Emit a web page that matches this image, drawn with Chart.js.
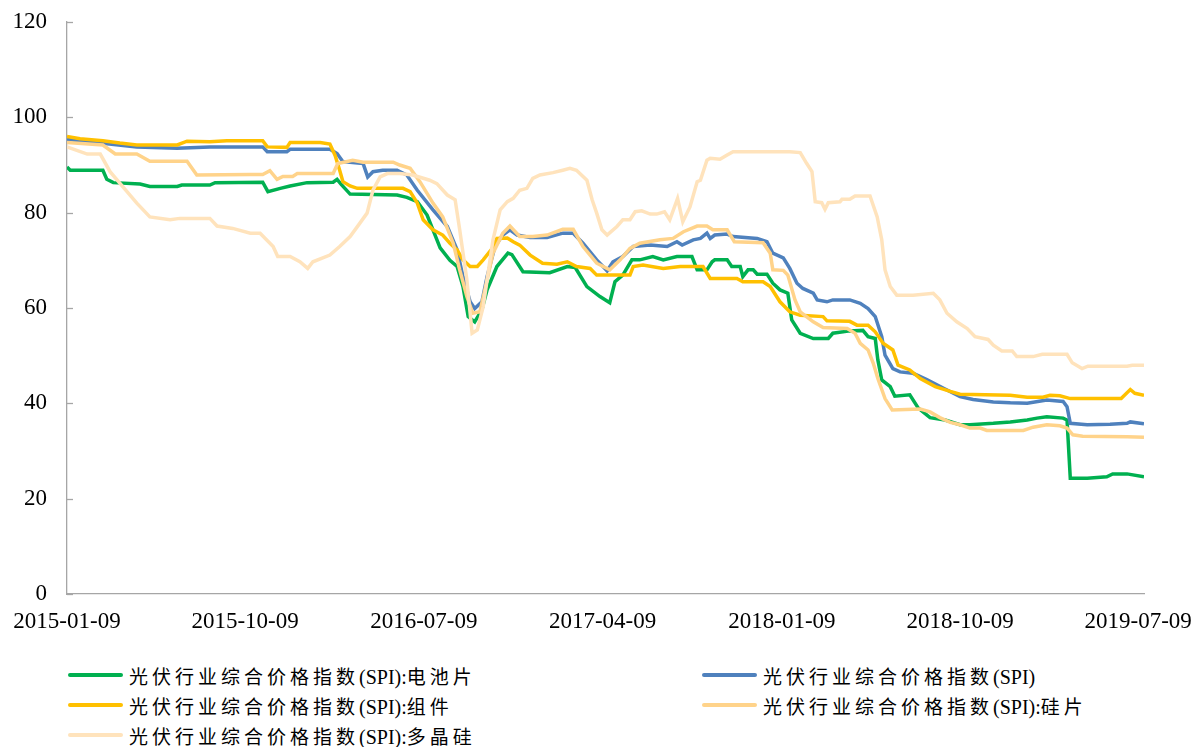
<!DOCTYPE html>
<html>
<head>
<meta charset="utf-8">
<script src="https://cdn.jsdelivr.net/npm/chart.js@4.4.1/dist/chart.umd.min.js"></script>
<style>
  body { margin: 0; background: #fff; }
  #wrap { position: relative; width: 1195px; height: 747px; }
  #legend { position: absolute; left: 0; top: 660px; width: 1195px;
    font-family: "Liberation Serif", "Noto Sans CJK SC", serif; font-size: 20px; color: #000; }
  .item { position: absolute; height: 30px; display: flex; align-items: center; white-space: nowrap; }
  .item .swatch { width: 55px; height: 4px; border-radius: 2px; margin-right: 6px; }
  .cjk { font-family: "Noto Sans CJK SC", sans-serif; letter-spacing: 4px; font-size: 19px; }
</style>
</head>
<body>
<div id="wrap">
  <canvas id="chart" width="1195" height="650"></canvas>
  <div id="legend"></div>
</div>
<script>
const tickLabels = ["2015-01-09", "2015-10-09", "2016-07-09", "2017-04-09", "2018-01-09", "2018-10-09", "2019-07-09"];
const lastDate = "2019-07-18";

// 光伏行业综合价格指数(SPI):电池片
const cellDates = ["2015-01-09","2015-01-14","2015-03-05","2015-03-11","2015-03-21","2015-05-01","2015-05-16","2015-06-27","2015-07-04","2015-08-16","2015-08-24","2015-11-05","2015-11-13","2015-12-02","2015-12-17","2016-01-12","2016-02-21","2016-02-27","2016-03-04","2016-03-18","2016-05-29","2016-06-13","2016-06-29","2016-07-14","2016-08-03","2016-08-18","2016-08-29","2016-09-07","2016-09-15","2016-09-25","2016-10-06","2016-10-14","2016-10-29","2016-11-15","2016-11-21","2016-12-08","2017-01-18","2017-02-14","2017-02-26","2017-03-16","2017-04-05","2017-04-20","2017-04-28","2017-05-10","2017-05-24","2017-06-05","2017-06-25","2017-07-11","2017-08-01","2017-08-24","2017-09-01","2017-09-16","2017-09-24","2017-09-28","2017-10-17","2017-10-24","2017-11-06","2017-11-10","2017-11-18","2017-11-26","2017-12-02","2017-12-17","2017-12-26","2018-01-06","2018-01-18","2018-01-24","2018-02-06","2018-02-26","2018-03-21","2018-03-28","2018-04-23","2018-05-13","2018-05-21","2018-06-01","2018-06-05","2018-06-11","2018-06-24","2018-07-01","2018-07-24","2018-08-06","2018-08-24","2018-09-16","2018-10-09","2018-10-24","2018-11-29","2018-12-25","2019-01-20","2019-02-04","2019-02-19","2019-03-16","2019-03-22","2019-03-27","2019-04-22","2019-05-22","2019-05-31","2019-06-22","2019-07-18"];
const cellValues = [89.6,88.9,88.9,87.0,86.3,86.0,85.5,85.5,85.8,85.8,86.3,86.4,84.4,85.1,85.6,86.3,86.4,87.0,86.0,83.9,83.7,83.2,82.3,79.5,72.6,70.0,68.7,64.5,58.2,57.1,59.6,63.8,68.7,71.5,71.2,67.6,67.4,68.7,68.5,64.5,62.4,61.1,65.5,66.9,70.1,70.1,70.8,70.1,70.8,70.8,68.0,68.0,69.7,70.1,70.1,68.7,68.7,66.6,68.0,68.0,67.1,67.1,65.2,63.8,63.1,57.5,54.7,53.6,53.6,54.7,55.2,55.3,54.0,53.6,49.1,44.9,43.5,41.5,41.8,39.0,37.0,36.5,35.5,35.5,35.8,36.1,36.5,36.9,37.2,36.9,36.5,24.3,24.3,24.6,25.2,25.2,24.6];

// 光伏行业综合价格指数(SPI)
const spiDates = ["2015-01-09","2015-01-29","2015-03-01","2015-04-26","2015-06-27","2015-08-16","2015-11-05","2015-11-12","2015-12-12","2015-12-17","2016-02-16","2016-02-27","2016-03-07","2016-04-07","2016-04-14","2016-04-22","2016-05-07","2016-05-29","2016-06-13","2016-06-29","2016-07-23","2016-08-14","2016-08-29","2016-09-07","2016-09-18","2016-09-25","2016-10-06","2016-10-14","2016-10-26","2016-11-07","2016-11-18","2016-11-29","2016-12-19","2017-01-14","2017-02-07","2017-02-23","2017-03-10","2017-03-31","2017-04-16","2017-04-25","2017-05-10","2017-05-26","2017-06-21","2017-07-17","2017-08-01","2017-08-09","2017-08-26","2017-09-06","2017-09-16","2017-09-21","2017-09-28","2017-10-17","2017-10-26","2017-12-02","2017-12-17","2017-12-26","2018-01-11","2018-01-21","2018-02-01","2018-02-10","2018-02-26","2018-03-04","2018-03-19","2018-03-28","2018-04-23","2018-05-09","2018-05-21","2018-06-01","2018-06-11","2018-06-16","2018-06-28","2018-07-09","2018-07-29","2018-08-19","2018-09-16","2018-10-09","2018-10-29","2018-11-29","2018-12-25","2019-01-20","2019-02-19","2019-03-16","2019-03-22","2019-03-27","2019-04-22","2019-05-27","2019-06-22","2019-06-27","2019-07-18"];
const spiValues = [95.4,95.0,94.6,93.8,93.5,93.8,93.8,92.8,92.8,93.3,93.3,92.4,90.7,90.3,87.5,88.6,88.9,88.9,87.9,84.7,80.6,77.1,72.2,66.6,61.3,59.9,61.3,66.6,72.9,75.3,76.4,75.3,74.8,74.8,75.7,75.7,73.6,70.1,67.8,69.7,70.8,72.9,73.2,72.9,73.9,73.2,74.3,74.6,75.7,74.6,75.3,75.5,75.0,74.6,73.9,71.5,70.5,68.3,65.2,64.1,63.1,61.7,61.3,61.7,61.7,61.0,59.9,58.2,54.0,50.1,47.3,46.6,46.3,45.0,43.0,41.4,40.8,40.3,40.1,40.0,40.7,40.4,39.3,35.8,35.5,35.6,35.8,36.1,35.7];

// 光伏行业综合价格指数(SPI):组件
const moduleDates = ["2015-01-09","2015-01-29","2015-03-05","2015-03-31","2015-04-26","2015-06-27","2015-07-12","2015-08-16","2015-09-11","2015-11-05","2015-11-12","2015-12-12","2015-12-17","2016-02-01","2016-02-16","2016-02-24","2016-03-02","2016-03-07","2016-03-18","2016-03-29","2016-06-07","2016-06-18","2016-06-29","2016-07-08","2016-07-23","2016-08-07","2016-08-18","2016-08-29","2016-09-07","2016-09-18","2016-09-29","2016-10-08","2016-10-22","2016-10-29","2016-11-14","2016-11-23","2016-12-03","2016-12-19","2017-01-07","2017-01-29","2017-02-14","2017-02-28","2017-03-21","2017-03-31","2017-05-21","2017-05-26","2017-06-10","2017-07-11","2017-08-06","2017-09-10","2017-09-21","2017-11-01","2017-11-10","2017-12-11","2017-12-22","2018-01-06","2018-01-21","2018-02-06","2018-03-13","2018-03-19","2018-04-23","2018-05-04","2018-05-21","2018-06-01","2018-06-13","2018-06-28","2018-07-06","2018-07-24","2018-08-09","2018-09-01","2018-09-24","2018-10-09","2018-12-25","2019-01-20","2019-02-13","2019-02-24","2019-03-11","2019-03-27","2019-06-13","2019-06-27","2019-07-04","2019-07-18"];
const moduleValues = [96.0,95.5,95.1,94.6,94.2,94.2,95.0,94.9,95.1,95.1,93.8,93.7,94.7,94.7,94.4,92.0,88.9,86.5,85.6,85.1,85.1,84.4,82.0,78.5,76.4,75.3,73.6,72.2,70.1,68.7,68.7,70.1,72.5,74.6,74.7,73.9,73.2,71.1,69.4,69.2,69.7,68.7,68.3,66.9,66.9,68.7,69.0,68.3,68.7,68.7,66.2,66.2,65.5,65.5,64.5,61.3,59.2,58.5,58.2,57.3,57.2,56.4,56.4,55.0,52.6,51.2,48.0,47.0,45.2,43.5,42.5,41.9,41.7,41.3,41.3,41.7,41.6,41.0,41.0,42.9,42.1,41.7];

// 光伏行业综合价格指数(SPI):硅片
const waferDates = ["2015-01-09","2015-03-05","2015-03-24","2015-04-26","2015-05-16","2015-07-12","2015-07-27","2015-10-17","2015-11-05","2015-11-16","2015-11-27","2015-12-06","2015-12-21","2015-12-28","2016-02-21","2016-02-28","2016-03-22","2016-04-07","2016-05-23","2016-06-02","2016-06-18","2016-07-03","2016-07-23","2016-08-07","2016-08-23","2016-09-02","2016-09-13","2016-09-22","2016-10-03","2016-10-14","2016-10-23","2016-11-07","2016-11-18","2016-12-03","2016-12-23","2017-01-14","2017-02-07","2017-02-23","2017-03-10","2017-03-31","2017-04-20","2017-05-06","2017-05-21","2017-06-05","2017-07-06","2017-07-26","2017-08-11","2017-09-01","2017-09-16","2017-09-25","2017-10-17","2017-10-28","2017-12-11","2017-12-22","2017-12-26","2018-01-11","2018-01-18","2018-01-29","2018-02-06","2018-02-26","2018-03-13","2018-04-19","2018-05-01","2018-05-09","2018-05-21","2018-05-29","2018-06-05","2018-06-16","2018-06-27","2018-08-09","2018-08-24","2018-09-08","2018-09-24","2018-10-09","2018-10-24","2018-11-09","2018-11-19","2019-01-14","2019-01-29","2019-02-19","2019-03-11","2019-03-22","2019-03-31","2019-04-15","2019-06-22","2019-07-18"];
const waferValues = [94.7,94.2,92.3,92.3,90.8,90.8,87.9,88.0,88.0,88.8,87.0,87.6,87.6,88.2,88.2,90.3,91.0,90.6,90.6,90.0,89.3,86.5,82.0,79.1,73.6,68.0,62.4,58.9,59.2,65.9,71.5,75.7,77.2,75.0,75.0,75.3,76.5,76.5,72.9,69.4,68.0,70.1,72.5,73.6,74.3,74.6,76.0,77.2,77.2,76.4,76.4,73.9,73.7,71.5,68.0,67.9,66.9,61.7,59.2,57.1,55.9,55.7,54.7,52.6,51.2,48.4,45.2,41.0,38.6,38.8,38.2,37.0,36.0,35.5,34.8,34.8,34.3,34.3,35.0,35.5,35.3,34.8,33.4,33.1,33.0,32.9];

// 光伏行业综合价格指数(SPI):多晶硅
const polyDates = ["2015-01-09","2015-02-09","2015-03-01","2015-03-16","2015-04-11","2015-04-26","2015-05-16","2015-06-16","2015-07-01","2015-08-16","2015-08-27","2015-09-20","2015-10-17","2015-11-01","2015-11-21","2015-11-28","2015-12-17","2016-01-01","2016-01-13","2016-01-21","2016-02-16","2016-03-02","2016-03-18","2016-04-02","2016-04-13","2016-04-22","2016-05-03","2016-05-14","2016-06-02","2016-06-22","2016-07-18","2016-07-29","2016-08-14","2016-08-26","2016-09-02","2016-09-13","2016-09-21","2016-09-29","2016-10-08","2016-10-23","2016-11-03","2016-11-14","2016-11-23","2016-12-03","2016-12-14","2016-12-23","2017-01-03","2017-01-23","2017-02-07","2017-02-18","2017-02-28","2017-03-16","2017-03-24","2017-03-31","2017-04-08","2017-04-16","2017-05-01","2017-05-10","2017-05-21","2017-05-29","2017-06-08","2017-06-21","2017-07-01","2017-07-13","2017-07-21","2017-08-02","2017-08-10","2017-08-21","2017-09-01","2017-09-06","2017-09-16","2017-09-21","2017-10-06","2017-10-17","2017-10-26","2018-01-21","2018-02-06","2018-02-16","2018-02-24","2018-03-01","2018-03-11","2018-03-16","2018-03-21","2018-04-08","2018-04-11","2018-04-23","2018-05-01","2018-05-24","2018-06-04","2018-06-11","2018-06-16","2018-06-24","2018-07-04","2018-07-29","2018-08-29","2018-09-08","2018-09-19","2018-10-04","2018-10-20","2018-11-01","2018-11-21","2018-11-29","2018-12-12","2018-12-28","2019-01-04","2019-01-29","2019-02-12","2019-03-22","2019-03-30","2019-04-14","2019-04-23","2019-06-22","2019-06-30","2019-07-18"];
const polyValues = [93.8,92.3,92.3,88.6,84.4,82.0,79.1,78.5,78.8,78.8,77.2,76.7,75.7,75.7,72.9,70.8,70.8,69.7,68.3,69.7,71.1,72.9,75.0,77.8,79.9,84.7,87.5,88.2,88.2,87.9,86.8,86.1,83.7,82.7,76.4,65.9,54.7,55.4,60.3,74.3,80.6,82.3,83.0,84.7,85.1,87.2,87.9,88.4,88.9,89.3,88.9,86.8,82.7,79.9,76.4,75.3,77.1,78.5,78.5,80.2,80.4,79.7,79.7,80.2,78.5,83.0,78.1,81.2,86.5,86.8,91.0,91.4,91.2,92.1,92.8,92.8,92.6,90.3,88.6,82.3,82.1,80.7,82.1,82.3,82.8,82.8,83.5,83.5,79.1,74.3,68.0,64.5,62.7,62.7,63.1,61.7,58.9,57.1,55.7,54.0,53.4,52.2,51.0,51.0,49.8,49.8,50.3,50.3,48.5,47.3,47.8,47.8,48.0,48.0];

const seriesNames = [
  "光伏行业综合价格指数(SPI):电池片",
  "光伏行业综合价格指数(SPI)",
  "光伏行业综合价格指数(SPI):组件",
  "光伏行业综合价格指数(SPI):硅片",
  "光伏行业综合价格指数(SPI):多晶硅"
];
const seriesColors = ["#00B050", "#4F81BD", "#FFC000", "#FFD38A", "#FFE3BC"];

const startMs = Date.UTC(2015, 0, 9);
function toDay(s) {
  const p = s.split("-").map(Number);
  return Math.round((Date.UTC(p[0], p[1] - 1, p[2]) - startMs) / 86400000);
}
function points(dates, values) {
  return dates.map((d, i) => ({ x: toDay(d), y: values[i] }));
}

const tickDays = tickLabels.map(toDay);
const allSeries = [
  points(cellDates, cellValues),
  points(spiDates, spiValues),
  points(moduleDates, moduleValues),
  points(waferDates, waferValues),
  points(polyDates, polyValues)
];

// y axis ticks point inward, like the original
const innerTicks = {
  id: "innerTicks",
  afterDraw(chart) {
    const y = chart.scales.y;
    const ctx = chart.ctx;
    ctx.save();
    ctx.strokeStyle = "#a6a6a6";
    ctx.lineWidth = 1.3;
    y.ticks.forEach((t) => {
      const py = Math.round(y.getPixelForValue(t.value)) + 0.5;
      ctx.beginPath();
      ctx.moveTo(y.right, py);
      ctx.lineTo(y.right + 6, py);
      ctx.stroke();
    });
    ctx.restore();
  },
};

const tickFont = { family: "'Liberation Serif', 'Times New Roman', serif", size: 23 };

const ctx = document.getElementById("chart").getContext("2d");
new Chart(ctx, {
  type: "line",
  data: {
    datasets: allSeries.map((d, i) => ({
      label: seriesNames[i],
      data: d,
      borderColor: seriesColors[i],
      backgroundColor: seriesColors[i],
      borderWidth: 3.5,
      pointRadius: 0,
      tension: 0,
      order: 5 - i, // later series sit on top
    })),
  },
  options: {
    responsive: false,
    animation: false,
    devicePixelRatio: 1,
    layout: { padding: { top: 22, right: 51, left: 0, bottom: 0 } },
    scales: {
      x: {
        type: "linear",
        min: 0,
        max: toDay(lastDate),
        afterBuildTicks: (axis) => {
          axis.ticks = tickDays.map((v) => ({ value: v }));
        },
        afterFit: (axis) => {
          axis.height = 56;
          // let the layout padding decide the plot edges
          axis.paddingLeft = 0;
          axis.paddingRight = 0;
        },
        grid: { display: false, drawTicks: false },
        border: { display: true, color: "#a6a6a6", width: 1.3 },
        ticks: {
          autoSkip: false,
          maxRotation: 0,
          padding: 14,
          color: "#000",
          font: tickFont,
          callback: (value) => tickLabels[tickDays.indexOf(value)],
        },
      },
      y: {
        min: 0,
        max: 120,
        afterFit: (axis) => {
          axis.width = 67;
          axis.paddingTop = 0;
          axis.paddingBottom = 0;
        },
        grid: { display: false, drawTicks: false },
        border: { display: true, color: "#a6a6a6", width: 1.3 },
        ticks: {
          stepSize: 20,
          padding: 20,
          color: "#000",
          font: tickFont,
        },
      },
    },
    plugins: {
      legend: { display: false },
      tooltip: { enabled: false },
    },
  },
  plugins: [innerTicks],
});

// legend in two columns under the chart
const legendPos = [
  { left: 68, top: 0 },
  { left: 702, top: 0 },
  { left: 68, top: 30 },
  { left: 702, top: 30 },
  { left: 68, top: 60 },
];
const legend = document.getElementById("legend");
seriesNames.forEach((name, i) => {
  const item = document.createElement("div");
  item.className = "item";
  item.style.left = legendPos[i].left + "px";
  item.style.top = legendPos[i].top + "px";
  const sw = document.createElement("span");
  sw.className = "swatch";
  sw.style.background = seriesColors[i];
  item.appendChild(sw);
  const label = document.createElement("span");
  name.split(/([\u4e00-\u9fff]+)/).forEach((part) => {
    if (!part) return;
    const s = document.createElement("span");
    if (/[\u4e00-\u9fff]/.test(part)) s.className = "cjk";
    s.textContent = part;
    label.appendChild(s);
  });
  item.appendChild(label);
  legend.appendChild(item);
});
</script>
</body>
</html>
